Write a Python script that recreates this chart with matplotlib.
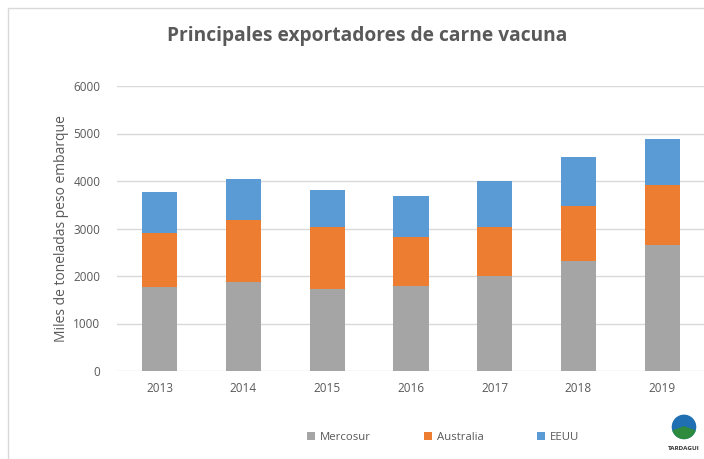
import matplotlib
matplotlib.use("Agg")
import matplotlib.pyplot as plt
from matplotlib.patches import Rectangle, Circle, Wedge
import numpy as np

years = ["2013", "2014", "2015", "2016", "2017", "2018", "2019"]
mercosur = [1770, 1880, 1720, 1800, 2000, 2310, 2650]
australia = [1140, 1290, 1320, 1030, 1040, 1170, 1260]
eeuu = [860, 880, 780, 850, 950, 1030, 980]
series_names = ["Mercosur", "Australia", "EEUU"]
colors = ["#a5a5a5", "#ed7d31", "#5b9bd5"]
yticks = [0, 1000, 2000, 3000, 4000, 5000, 6000]

plt.rcParams['font.family'] = ['Open Sans', 'DejaVu Sans']
txt = "#595959"

fig = plt.figure(figsize=(7.04, 4.59), dpi=100)
ax = fig.add_axes([117/704, 1-371/459, 1-117/704, (371-86)/459])

x = np.arange(len(years))
bottom = np.zeros(len(years))
handles = []
for name, vals, c in zip(series_names, [mercosur, australia, eeuu], colors):
    h = ax.bar(x, vals, width=0.42, bottom=bottom, color=c, label=name, zorder=3)
    handles.append(h)
    bottom += np.array(vals)

ax.set_xlim(-0.51, 6.5)
ax.set_ylim(0, 6000)
ax.set_yticks(yticks)
ax.set_yticklabels([str(v) for v in yticks])
ax.set_xticks(x)
ax.set_xticklabels(years)
ax.grid(axis='y', color='#d9d9d9', lw=1, zorder=0)
for s in ax.spines.values():
    s.set_visible(False)
ax.tick_params(axis='both', length=0, labelsize=8.5, colors=txt)
ax.tick_params(axis='y', pad=12)
ax.tick_params(axis='x', pad=8)
ax.set_ylabel("Miles de toneladas peso embarque", fontsize=10, color=txt, labelpad=3)

fig.text(367/704, 1-36/459, "Principales exportadores de carne vacuna",
         ha='center', va='center', fontsize=13.8, fontweight='bold', color=txt,
         family=['Open Sans', 'DejaVu Sans'])

leg = fig.legend(handles=handles, labels=series_names, loc='center',
                 bbox_to_anchor=(443/704, 1-437/459), ncol=3, frameon=False,
                 fontsize=8.2, handlelength=0.7, handleheight=0.7,
                 columnspacing=4.7, handletextpad=0.4)
for t in leg.get_texts():
    t.set_color(txt)

# border
fig.add_artist(Rectangle((8/704, -0.1), 1.2, (1-8/459)+0.1, transform=fig.transFigure,
                         fill=False, edgecolor='#d9d9d9', lw=1))

# logo
la = fig.add_axes([667/704, 1-447/459, 34/704, 34/459])
la.set_xlim(-1, 1); la.set_ylim(-1.2, 1)
la.set_aspect('equal'); la.axis('off')
la.add_patch(Circle((0, 0.1), 0.75, color='#1f6fb2'))
la.add_patch(Wedge((0, 0.1), 0.75, 200, 340, color='#2e8b3e'))
fig.text(684/704, 1-449/459, "TARDAGUI", ha='center', va='center', fontsize=4.5,
         fontweight='bold', color='#333333')

fig.savefig("out.png", dpi=100)
